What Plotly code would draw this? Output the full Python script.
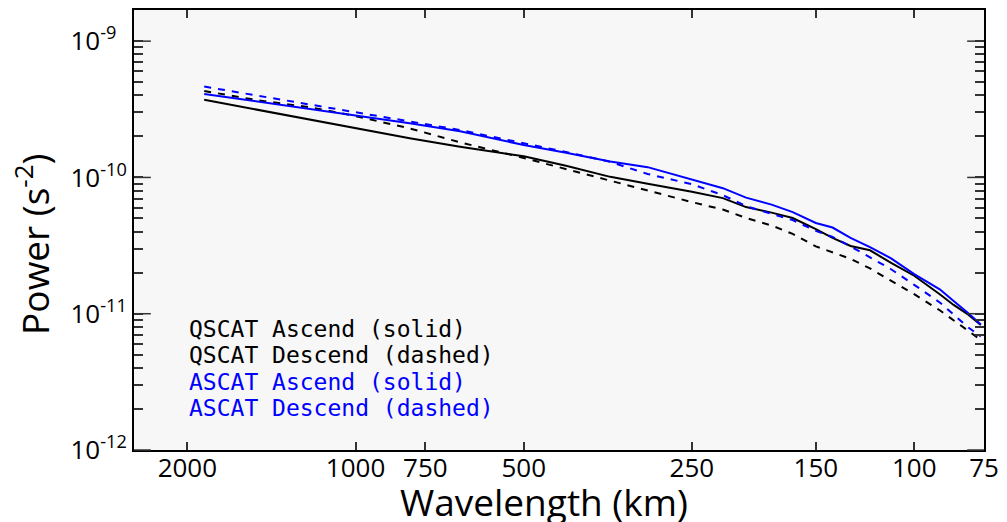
import math
import plotly.graph_objects as go

# Wavelength samples (km) shared by all four spectra
wavelength_km = [1866, 1500, 1200, 1000, 800, 650, 500, 420, 350, 300, 250, 220, 200,
                 180, 165, 150, 140, 130, 120, 110, 100, 90, 85, 80, 76]

# Spectral power (s^-2)
qscat_ascend = [3.71e-10, 3.14e-10, 2.65e-10, 2.30e-10, 1.94e-10, 1.68e-10, 1.43e-10,
                1.22e-10, 1.01e-10, 8.99e-11, 7.86e-11, 7.05e-11, 6.06e-11, 5.52e-11,
                5.04e-11, 4.18e-11, 3.60e-11, 3.14e-11, 2.92e-11, 2.36e-11, 1.90e-11,
                1.39e-11, 1.16e-11, 9.85e-12, 8.26e-12]
qscat_descend = [4.31e-10, 3.69e-10, 3.26e-10, 2.82e-10, 2.29e-10, 1.81e-10, 1.39e-10,
                 1.15e-10, 9.46e-11, 7.93e-11, 6.59e-11, 5.81e-11, 5.04e-11, 4.44e-11,
                 3.85e-11, 3.12e-11, 2.82e-11, 2.53e-11, 2.15e-11, 1.75e-11, 1.39e-11,
                 1.06e-11, 8.91e-12, 7.40e-12, 6.42e-12]
ascat_ascend = [4.10e-10, 3.61e-10, 3.17e-10, 2.85e-10, 2.50e-10, 2.18e-10, 1.73e-10,
                1.52e-10, 1.31e-10, 1.19e-10, 9.62e-11, 8.34e-11, 7.11e-11, 6.32e-11,
                5.57e-11, 4.63e-11, 4.29e-11, 3.60e-11, 3.08e-11, 2.55e-11, 1.95e-11,
                1.51e-11, 1.24e-11, 1.01e-11, 8.33e-12]
ascat_descend = [4.64e-10, 3.99e-10, 3.42e-10, 3.02e-10, 2.60e-10, 2.23e-10, 1.78e-10,
                 1.54e-10, 1.30e-10, 1.06e-10, 8.92e-11, 7.41e-11, 6.16e-11, 5.43e-11,
                 4.87e-11, 4.05e-11, 3.66e-11, 3.12e-11, 2.59e-11, 2.12e-11, 1.63e-11,
                 1.21e-11, 9.85e-12, 7.92e-12, 6.80e-12]

# Axis ticks
x_tick_values = [2000, 1000, 750, 500, 250, 150, 100, 75]
y_major_values = [1e-12, 1e-11, 1e-10, 1e-9]
y_major_text = ["10<sup>-12</sup>", "10<sup>-11</sup>", "10<sup>-10</sup>",
                "10<sup>-9&#8199;</sup>"]
y_minor_values = [m * 10.0 ** e for e in (-12, -11, -10, -9) for m in range(2, 10)]

# In-plot key text
key_labels = ["QSCAT Ascend (solid)", "QSCAT Descend (dashed)",
              "ASCAT Ascend (solid)", "ASCAT Descend (dashed)"]
key_colors = ["black", "black", "#0000ff", "#0000ff"]

BLUE = "#0000ff"
DASH = "7px,7px"
TICK_COLOR = "#333333"

series = [
    (qscat_ascend, "black", "solid", key_labels[0]),
    (qscat_descend, "black", DASH, key_labels[1]),
    (ascat_ascend, BLUE, "solid", key_labels[2]),
    (ascat_descend, BLUE, DASH, key_labels[3]),
]

fig = go.Figure()
for values, color, dash, name in series:
    fig.add_trace(go.Scatter(
        x=wavelength_km, y=values, mode="lines", name=name,
        line=dict(color=color, width=2, dash=dash),
        showlegend=False,
    ))

W, H = 1007, 522
L, R, T, B = 134, 15, 8, 72
pw, ph = W - L - R, H - T - B
Y_RANGE = [-12.0, -8.7714]
MAJOR_LEN = 17


def px(xp):
    return (xp - L) / pw


def py(yp):
    return (H - B - yp) / ph


def y_to_paper(v):
    return (math.log10(v) - Y_RANGE[0]) / (Y_RANGE[1] - Y_RANGE[0])


# All y ticks live on the axis (short); decade ticks get a longer mark on both sides
y_all_values = sorted(y_major_values + y_minor_values)
y_all_text = [y_major_text[y_major_values.index(v)] if v in y_major_values else ""
              for v in y_all_values]

for v in y_major_values:
    yp = y_to_paper(v)
    if 0.0 <= yp <= 1.0:
        for x0, x1 in ((0.0, MAJOR_LEN / pw), (1.0 - MAJOR_LEN / pw, 1.0)):
            fig.add_shape(type="line", xref="paper", yref="paper",
                          x0=x0, x1=x1, y0=yp, y1=yp, layer="above",
                          line=dict(color=TICK_COLOR, width=1.5))

annotations = []
key_rows = [328, 355, 382, 408]
for label, color, row in zip(key_labels, key_colors, key_rows):
    annotations.append(dict(
        text=label, xref="paper", yref="paper", x=px(187), y=py(row),
        xanchor="left", yanchor="middle", showarrow=False,
        font=dict(family="DejaVu Sans Mono", size=23, color=color),
    ))

annotations.append(dict(
    text="Wavelength (km)", xref="paper", yref="paper", x=px(548), y=py(502),
    xanchor="center", yanchor="middle", showarrow=False,
    font=dict(family="Open Sans", size=37, color="black"),
))
annotations.append(dict(
    text="Power (s<sup>-2</sup>)", xref="paper", yref="paper", x=px(32), y=py(243),
    xanchor="center", yanchor="middle", showarrow=False, textangle=-90,
    font=dict(family="Open Sans", size=37, color="black"),
))

fig.update_layout(
    width=W, height=H,
    margin=dict(l=L, r=R, t=T, b=B, pad=0),
    paper_bgcolor="white",
    plot_bgcolor="#f7f7f7",
    font=dict(family="Open Sans", color="black"),
    annotations=annotations,
    xaxis=dict(
        type="log",
        range=[math.log10(2492), math.log10(75)],
        tickmode="array", tickvals=x_tick_values,
        ticktext=[str(v) for v in x_tick_values],
        ticks="inside", ticklen=8, tickwidth=1.5, tickcolor=TICK_COLOR,
        ticklabelstandoff=-6,
        showline=True, linecolor="black", linewidth=2, mirror="allticks",
        showgrid=False, zeroline=False,
        tickfont=dict(family="Open Sans", size=26, color="black"),
    ),
    yaxis=dict(
        type="log",
        range=Y_RANGE,
        tickmode="array", tickvals=y_all_values, ticktext=y_all_text,
        ticks="inside", ticklen=9, tickwidth=1.5, tickcolor=TICK_COLOR,
        showline=True, linecolor="black", linewidth=2, mirror="allticks",
        showgrid=False, zeroline=False,
        tickfont=dict(family="Open Sans", size=26, color="black"),
    ),
)

fig.write_html("out.html")
